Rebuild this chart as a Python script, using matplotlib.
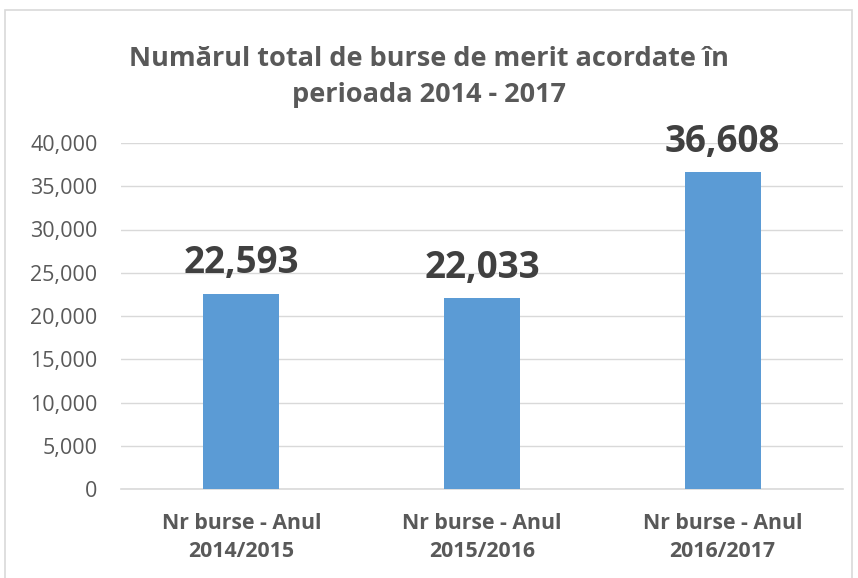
import matplotlib
matplotlib.use("Agg")
import matplotlib.pyplot as plt
from matplotlib.patches import Rectangle
from matplotlib.ticker import FuncFormatter

categories = ["Nr burse - Anul\n2014/2015", "Nr burse - Anul\n2015/2016", "Nr burse - Anul\n2016/2017"]
values = [22593, 22033, 36608]
yticks = [0, 5000, 10000, 15000, 20000, 25000, 30000, 35000, 40000]
title = "Numărul total de burse de merit acordate în\nperioada 2014 - 2017"

plt.rcParams['font.family'] = ['Open Sans', 'DejaVu Sans']

fig = plt.figure(figsize=(8.58, 5.78), dpi=100)
fig.patches.append(Rectangle((5/858, -0.01), 847/858, 1 - 10/578 + 0.01, transform=fig.transFigure,
                             fill=False, edgecolor='#d9d9d9', linewidth=1.2))
ax = fig.add_axes([121/858, 89/578, 722/858, 346/578])
x = range(len(values))
ax.bar(x, values, width=0.315, color='#5B9BD5', zorder=3)
ax.set_xlim(-0.5, 2.5)
ax.set_ylim(0, 40000)
ax.set_yticks(yticks)
ax.yaxis.set_major_formatter(FuncFormatter(lambda v, p: f"{int(v):,}"))
ax.grid(axis='y', color='#d9d9d9', linewidth=1, zorder=0)
for s in ['top', 'right', 'left']:
    ax.spines[s].set_visible(False)
ax.spines['bottom'].set_color('#d9d9d9')
ax.spines['bottom'].set_linewidth(1.2)
ax.tick_params(axis='both', length=0, colors='#595959')
ax.tick_params(axis='y', labelsize=15.5, pad=17)
ax.set_xticks(list(x))
ax.set_xticklabels(categories, fontsize=15.3, fontweight='bold', color='#595959', linespacing=1.45)
ax.tick_params(axis='x', pad=17)
for i, v in enumerate(values):
    ax.text(i, v + 2400, f"{v:,}", ha='center', va='baseline', fontsize=26.5, fontweight='bold',
            color='#404040', clip_on=False)
fig.text(0.5, 1 - 77/578, title, ha='center', va='center', fontsize=19.5, fontweight='bold',
         color='#595959', linespacing=1.55)
fig.savefig("out.png", dpi=100)
